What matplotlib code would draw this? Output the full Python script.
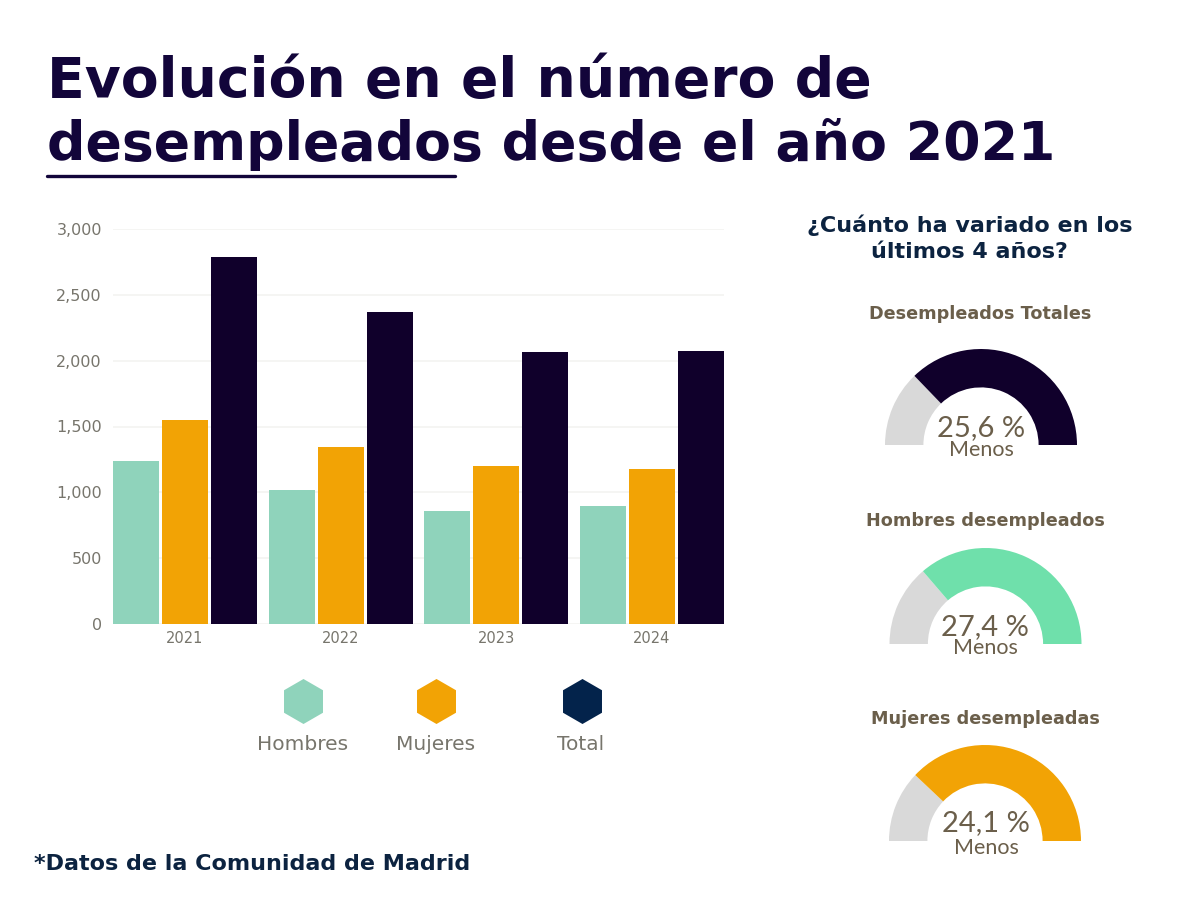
import numpy as np
import matplotlib.pyplot as plt
import matplotlib

W, H = 1200, 900
matplotlib.rcParams.update(
    {
        'figure.dpi': 100,
        'figure.figsize': (W / 100, H / 100),
        'font.family': 'DejaVu Sans',
    }
)

years = ['2021', '2022', '2023', '2024']
hombres = [1238, 1018, 858, 896]
mujeres = [1550, 1344, 1200, 1177]
total = [2787, 2370, 2066, 2073]

legend_labels = ['Hombres', 'Mujeres', 'Total']
gauge_titles = ['Desempleados Totales', 'Hombres desempleados', 'Mujeres desempleadas']
gauge_values = [25.6, 27.4, 24.1]
gauge_texts = ['25,6 %', '27,4 %', '24,1 %']

GREEN = '#8fd3bb'
ORANGE = '#f2a305'
DARK = '#10002b'
NAVY = '#03234b'
BROWN = '#6b5f4b'
GREY = '#77756c'


def px_axes(x0, y0, x1, y1, **kw):
    # axes from pixel box, y counted from the top of the picture
    return fig.add_axes([x0 / W, 1 - y1 / H, (x1 - x0) / W, (y1 - y0) / H], **kw)


fig = plt.figure(facecolor='white')

# bars
ax = px_axes(113, 229, 724, 624)
x = np.arange(len(years))
bw = 46 / 155.5
step = 49 / 155.5
for offs, vals, col in [(-1, hombres, GREEN), (0, mujeres, ORANGE), (1, total, DARK)]:
    ax.bar(x + offs * step, vals, bw, color=col, zorder=3)
ax.set_xlim(-0.463, 3.466)
ax.set_ylim(0, 3000)
ax.set_yticks(range(0, 3001, 500))
ax.set_yticklabels([f'{v:,}' for v in range(0, 3001, 500)])
ax.set_xticks(x)
ax.set_xticklabels(years)
ax.tick_params(length=0, labelsize=10.5, labelcolor=GREY, pad=5)
ax.tick_params(axis='y', labelsize=11.5, pad=8)
ax.grid(axis='y', color='#f3f3f1', linewidth=1.2, zorder=0)
for s in ax.spines.values():
    s.set_visible(False)

# overlay in pixel coords for the free text
ov = fig.add_axes([0, 0, 1, 1], zorder=5)
ov.set_xlim(0, W)
ov.set_ylim(H, 0)
ov.axis('off')

ov.text(47, 97, 'Evolución en el número de', fontsize=39.8, fontweight='bold',
        color='#12053a', va='baseline')
ov.text(47, 160, 'desempleados desde el año 2021', fontsize=38.7, fontweight='bold',
        color='#12053a', va='baseline')
ov.plot([47, 455], [176, 176], color='#12053a', lw=2.4, solid_capstyle='round')

# legend
for lx, tx, col, lab in zip([303, 436, 582], [303, 436, 581], [GREEN, ORANGE, NAVY], legend_labels):
    ov.scatter([lx], [701], marker='h', s=1050, color=col, linewidths=0)
    ov.text(tx, 745, lab, fontsize=14.5, color=GREY, ha='center', va='center')

ov.text(34, 864, '*Datos de la Comunidad de Madrid', fontsize=16, fontweight='bold',
        color='#0c2340', va='center')

ov.text(970, 225, '¿Cuánto ha variado en los', fontsize=16, fontweight='bold',
        color='#0c2340', ha='center', va='center')
ov.text(969, 252, 'últimos 4 años?', fontsize=16, fontweight='bold',
        color='#0c2340', ha='center', va='center')

# gauges
gauge_colors = [DARK, '#6fe0ab', ORANGE]
gauge_cx = [981, 985.5, 985]
gauge_cy = [445, 644, 841]
title_y = [314, 521, 719]
title_x = [980, 985, 985]
pct_x = [981, 985, 986]
pct_y = [428, 627, 823]
menos_y = [450, 648, 848]
R = 96
for i in range(3):
    cx, cy = gauge_cx[i], gauge_cy[i]
    g = px_axes(cx - R, cy - R, cx + R, cy + R)
    v = gauge_values[i]
    g.pie([v, 100 - v, 100], colors=['#d9d9d9', gauge_colors[i], 'none'], startangle=180,
          counterclock=False, radius=1, wedgeprops={'width': 0.4, 'linewidth': 0})
    g.set_xlim(-1, 1)
    g.set_ylim(-1, 1)
    g.patch.set_alpha(0)
    ov.text(title_x[i], title_y[i], gauge_titles[i], fontsize=12.7, fontweight='bold',
            color=BROWN, ha='center', va='center')
    ov.text(pct_x[i], pct_y[i], gauge_texts[i], fontsize=21, color=BROWN, ha='center',
            va='center', family='Lato')
    ov.text(pct_x[i], menos_y[i], 'Menos', fontsize=15.5, color=BROWN, ha='center',
            va='center', family='Lato')

fig.savefig('out.png', dpi=100)
